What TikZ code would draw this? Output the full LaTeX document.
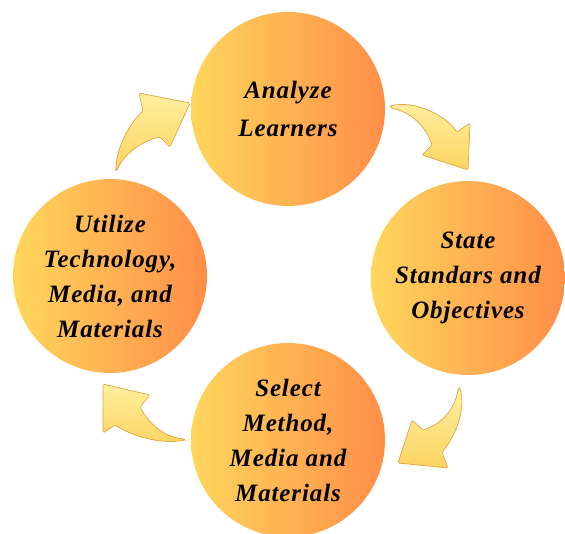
\documentclass[tikz,border=0pt]{standalone}
\usepackage{fontspec}
\setmainfont{Liberation Serif}
\newfontfamily\stagefont[LetterSpace=3.5]{Liberation Serif}
\begin{document}
\begin{tikzpicture}[x=1pt,y=-1pt]
  \definecolor{stageL}{RGB}{255,214,92}
  \definecolor{stageR}{RGB}{255,142,72}
  \definecolor{arrowLight}{RGB}{255,240,160}
  \definecolor{arrowDeep}{RGB}{252,212,96}
  \definecolor{arrowEdge}{RGB}{222,165,66}
  \tikzset{
    stage/.style={circle, minimum size=194pt, inner sep=0pt,
      left color=stageL, right color=stageR, draw=none,
      align=center, text=black,
      font=\stagefont\fontsize{25}{35}\selectfont\bfseries\itshape},
    cyclearrow/.style={draw=arrowEdge, line width=0.7pt, rounded corners=1.5pt,
      shading angle=45, top color=arrowLight, bottom color=arrowDeep}
  }
  \useasboundingbox (0,0) rectangle (565,533);

  % the four stages of the cycle
  \node[stage] (analyze) at (288,109) {Analyze\\[3pt]Learners};
  \node[stage] (state)   at (468,278) {State\\Standars and\\Objectives};
  \node[stage] (select)  at (288,440) {Select\\Method,\\Media and\\Materials};
  \node[stage] (utilize) at (110,276) {Utilize\\Technology,\\Media, and\\Materials};

  % curved block arrows running clockwise between the stages
  \path[cyclearrow] (116,170) .. controls (116,150) and (128,125) .. (143,111)
    -- (139,93) -- (190,103) -- (170,147) -- (160,137)
    .. controls (145,140) and (125,152) .. (117,170) -- cycle;
  \path[cyclearrow] (390,106) .. controls (415,100) and (445,115) .. (457,132)
    -- (470,123) -- (468,170) -- (422,155) -- (432,145)
    .. controls (425,125) and (410,112) .. (391,108) -- cycle;
  \path[cyclearrow] (460,388) .. controls (466,410) and (455,437) .. (442,452)
    -- (448,468) -- (398,463) -- (412,420) -- (423,430)
    .. controls (440,425) and (455,410) .. (458,389) -- cycle;
  \path[cyclearrow] (185,440) .. controls (160,445) and (130,435) .. (115,425)
    -- (103,433) -- (103,384) -- (150,395) -- (140,407)
    .. controls (150,425) and (165,437) .. (184,439) -- cycle;
\end{tikzpicture}
\end{document}
